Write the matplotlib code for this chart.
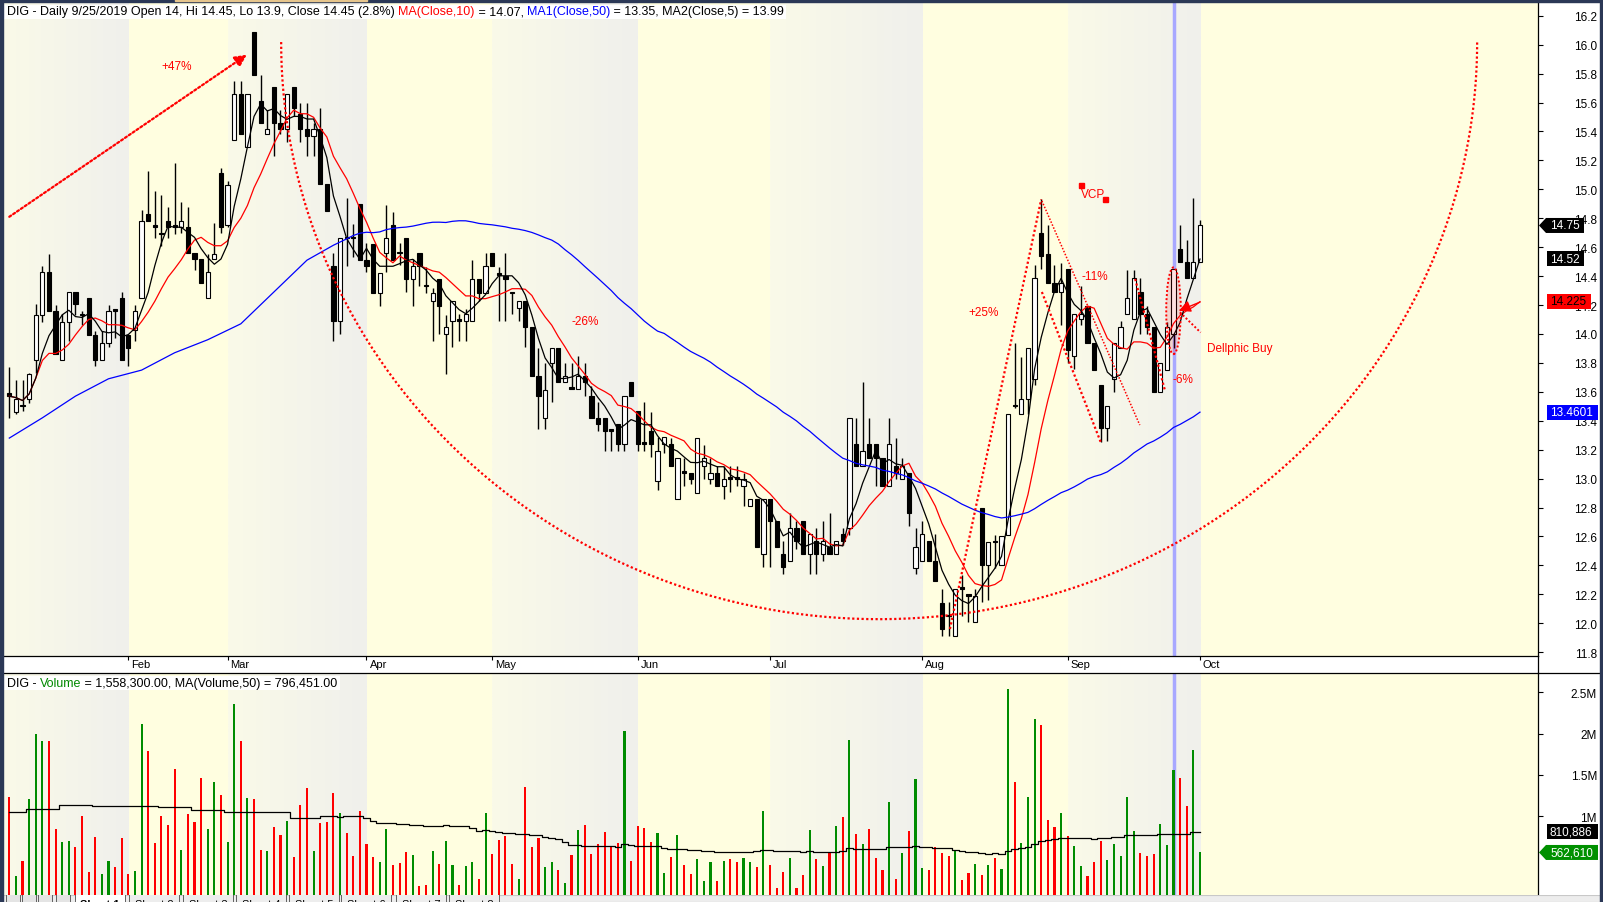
import numpy as np
import pandas as pd
import matplotlib
matplotlib.use('Agg')
import matplotlib.pyplot as plt
import matplotlib.transforms as mtransforms
from matplotlib.patches import Polygon, Rectangle, Ellipse
from matplotlib.lines import Line2D

plt.rcParams['font.family'] = ['Liberation Sans', 'DejaVu Sans']

# ----------------------------- data -----------------------------
opens = [13.59, 13.46, 13.51, 13.55, 13.82, 14.13, 14.43, 14.16, 13.82, 14.08,
         14.29, 14.14, 14.25, 13.99, 13.82, 13.94, 14.17, 14.25, 13.99, 14.03,
         14.25, 14.83, 14.75, 14.70, 14.78, 14.75, 14.74, 14.74, 14.56, 14.52,
         14.25, 14.52, 15.11, 14.75, 15.34, 15.66, 15.29, 16.09, 15.61, 15.38,
         15.71, 15.46, 15.42, 15.71, 15.52, 15.42, 15.37, 15.42, 15.04, 14.47,
         14.09, 14.67, 14.67, 14.90, 14.51, 14.62, 14.28, 14.56, 14.75, 14.57,
         14.66, 14.38, 14.56, 14.34, 14.23, 14.38, 14.00, 14.09, 14.10, 14.09,
         14.09, 14.38, 14.28, 14.56, 14.42, 14.40, 14.29, 14.18, 14.23, 14.05,
         13.71, 13.42, 13.80, 13.90, 13.67, 13.63, 13.62, 13.71, 13.57, 13.42,
         13.42, 13.34, 13.38, 13.24, 13.67, 13.47, 13.25, 13.33, 12.98, 13.24,
         13.24, 12.86, 13.05, 13.04, 12.90, 13.09, 13.00, 13.04, 12.95, 13.01,
         13.01, 12.95, 12.81, 12.86, 12.48, 12.86, 12.71, 12.48, 12.43, 12.66,
         12.71, 12.48, 12.57, 12.48, 12.53, 12.48, 12.62, 12.66, 13.24, 13.09,
         13.24, 13.24, 13.14, 12.95, 13.09, 13.00, 13.04, 12.38, 12.43, 12.57,
         12.43, 12.14, 12.06, 11.91, 12.25, 12.20, 12.01, 12.80, 12.40, 12.57,
         12.40, 12.61, 13.51, 13.45, 13.55, 13.69, 14.70, 14.55, 14.35, 14.29,
         14.45, 13.85, 14.10, 14.19, 13.94, 13.65, 13.35, 13.69, 13.90, 14.14,
         14.10, 14.29, 14.14, 14.05, 13.60, 13.75, 14.00, 14.59, 14.50, 14.39, 14.50]
highs = [13.77, 13.68, 13.68, 13.73, 14.21, 14.47, 14.55, 14.20, 14.14, 14.29,
         14.29, 14.16, 14.25, 14.02, 14.02, 14.20, 14.17, 14.29, 13.99, 14.20,
         14.86, 15.13, 14.99, 14.96, 14.88, 15.18, 14.91, 14.88, 14.56, 14.52,
         14.55, 14.77, 15.15, 15.06, 15.75, 15.75, 15.66, 16.09, 15.79, 15.55,
         15.71, 15.55, 15.66, 15.71, 15.60, 15.60, 15.46, 15.56, 15.04, 14.56,
         14.66, 14.94, 14.76, 14.90, 14.63, 14.62, 14.42, 14.89, 14.84, 14.63,
         14.66, 14.52, 14.56, 14.46, 14.32, 14.38, 14.13, 14.23, 14.14, 14.17,
         14.51, 14.38, 14.56, 14.56, 14.46, 14.56, 14.29, 14.23, 14.23, 14.05,
         13.90, 13.80, 13.90, 13.90, 13.80, 13.80, 13.85, 13.80, 13.64, 13.53,
         13.42, 13.34, 13.38, 13.57, 13.67, 13.47, 13.53, 13.46, 13.29, 13.29,
         13.28, 13.14, 13.14, 13.04, 13.28, 13.23, 13.14, 13.09, 13.09, 13.09,
         13.09, 13.04, 12.86, 12.86, 12.86, 12.86, 12.71, 12.57, 12.76, 12.71,
         12.71, 12.62, 12.66, 12.71, 12.76, 12.57, 12.66, 13.42, 13.42, 13.67,
         13.42, 13.24, 13.14, 13.42, 13.28, 13.14, 13.04, 12.66, 12.71, 12.57,
         12.62, 12.24, 12.15, 12.24, 12.33, 12.20, 12.24, 12.80, 12.56, 12.61,
         12.60, 13.45, 13.94, 13.84, 13.90, 14.48, 14.93, 14.75, 14.48, 14.49,
         14.45, 14.14, 14.33, 14.19, 13.94, 13.65, 13.50, 13.94, 14.09, 14.44,
         14.44, 14.39, 14.19, 14.05, 13.80, 14.08, 14.45, 14.75, 14.65, 14.94, 14.79]
lows = [13.42, 13.45, 13.47, 13.52, 13.73, 14.08, 14.16, 13.86, 13.82, 13.95,
        14.13, 14.06, 13.99, 13.78, 13.82, 13.91, 13.97, 13.82, 13.78, 13.95,
        14.25, 14.78, 14.66, 14.61, 14.66, 14.69, 14.70, 14.56, 14.44, 14.35,
        14.25, 14.52, 14.70, 14.74, 15.34, 15.38, 15.29, 15.79, 15.46, 15.38,
        15.23, 15.38, 15.33, 15.51, 15.33, 15.23, 15.23, 15.04, 14.85, 13.95,
        14.00, 14.47, 14.53, 14.51, 14.43, 14.28, 14.19, 14.43, 14.51, 14.48,
        14.29, 14.19, 14.33, 14.28, 13.95, 14.00, 13.72, 13.91, 13.95, 13.95,
        14.09, 14.23, 14.28, 14.47, 14.09, 14.09, 14.14, 14.09, 13.91, 13.71,
        13.34, 13.34, 13.53, 13.67, 13.67, 13.62, 13.62, 13.57, 13.42, 13.33,
        13.19, 13.19, 13.19, 13.19, 13.57, 13.19, 13.19, 13.15, 12.92, 13.18,
        13.09, 12.86, 12.95, 12.96, 12.90, 13.00, 12.96, 12.95, 12.86, 12.91,
        12.95, 12.81, 12.81, 12.53, 12.39, 12.39, 12.53, 12.34, 12.43, 12.51,
        12.48, 12.34, 12.34, 12.43, 12.48, 12.48, 12.54, 12.61, 13.09, 13.09,
        13.14, 12.95, 12.95, 12.95, 13.00, 13.00, 12.67, 12.34, 12.43, 12.43,
        12.29, 11.91, 11.91, 11.91, 12.05, 12.01, 12.01, 12.15, 12.16, 12.38,
        12.40, 12.61, 13.49, 13.45, 13.45, 13.65, 14.45, 14.35, 14.29, 14.06,
        13.80, 13.76, 14.06, 13.94, 13.75, 13.25, 13.26, 13.60, 13.90, 14.14,
        14.10, 14.00, 14.00, 13.60, 13.60, 13.75, 13.90, 14.50, 14.39, 14.39, 14.50]
closes = [13.57, 13.55, 13.50, 13.72, 14.13, 14.43, 14.16, 13.86, 14.08, 14.29,
          14.21, 14.13, 13.99, 13.82, 13.94, 14.16, 14.16, 13.82, 13.90, 14.16,
          14.78, 14.78, 14.74, 14.69, 14.74, 14.74, 14.78, 14.56, 14.52, 14.35,
          14.43, 14.55, 14.74, 15.03, 15.66, 15.38, 15.66, 15.79, 15.46, 15.42,
          15.46, 15.42, 15.66, 15.56, 15.42, 15.37, 15.42, 15.04, 14.85, 14.09,
          14.66, 14.66, 14.66, 14.51, 14.47, 14.28, 14.42, 14.66, 14.51, 14.56,
          14.38, 14.47, 14.47, 14.33, 14.28, 14.19, 14.05, 14.23, 14.09, 14.14,
          14.38, 14.28, 14.47, 14.47, 14.41, 14.38, 14.28, 14.23, 14.05, 13.71,
          13.57, 13.61, 13.90, 13.67, 13.71, 13.62, 13.71, 13.67, 13.42, 13.38,
          13.33, 13.33, 13.24, 13.57, 13.57, 13.24, 13.24, 13.24, 13.19, 13.29,
          13.09, 13.14, 13.04, 13.00, 13.28, 13.14, 13.04, 12.95, 13.00, 13.00,
          13.00, 13.00, 12.86, 12.53, 12.86, 12.71, 12.53, 12.39, 12.66, 12.57,
          12.48, 12.62, 12.48, 12.57, 12.48, 12.57, 12.57, 13.42, 13.09, 13.19,
          13.14, 13.14, 12.95, 13.24, 13.04, 13.09, 12.76, 12.53, 12.62, 12.43,
          12.29, 11.96, 12.05, 12.24, 12.24, 12.19, 12.19, 12.40, 12.56, 12.56,
          12.60, 13.45, 13.50, 13.55, 13.90, 14.39, 14.54, 14.35, 14.29, 14.35,
          13.89, 14.14, 14.14, 13.94, 13.75, 13.35, 13.50, 13.94, 14.05, 14.25,
          14.39, 14.14, 14.05, 13.60, 13.80, 14.05, 14.45, 14.50, 14.39, 14.50, 14.75]
volumes_m = [1.238, 0.278, 0.460, 1.210, 1.996, 1.915, 1.915, 0.847, 0.690, 0.702,
             0.629, 1.004, 0.327, 0.750, 0.302, 0.460, 0.387, 0.738, 0.302, 0.339,
             2.117, 1.790, 0.677, 1.004, 0.895, 1.573, 0.593, 1.028, 0.931, 1.464,
             0.847, 1.415, 1.258, 0.690, 2.359, 1.915, 1.222, 1.210, 0.593, 0.581,
             0.871, 0.774, 0.944, 0.508, 1.137, 1.343, 0.581, 0.919, 0.931, 1.282,
             1.040, 0.798, 0.520, 1.065, 0.665, 0.508, 0.448, 0.847, 0.411, 0.435,
             0.569, 0.532, 0.157, 0.169, 0.581, 0.423, 0.702, 0.411, 0.169, 0.399,
             0.448, 0.242, 1.040, 0.544, 0.714, 0.762, 0.423, 0.242, 1.355, 0.629,
             0.738, 0.387, 0.448, 0.351, 0.194, 0.532, 0.835, 0.895, 0.544, 0.661,
             0.810, 0.633, 0.677, 2.032, 0.460, 0.883, 0.859, 0.690, 0.798, 0.315,
             0.508, 0.774, 0.411, 0.302, 0.484, 0.218, 0.448, 0.218, 0.460, 0.484,
             0.448, 0.496, 0.448, 0.387, 1.065, 0.411, 0.133, 0.327, 0.496, 0.133,
             0.290, 0.835, 0.484, 0.399, 0.569, 0.883, 0.992, 1.923, 0.786, 0.665,
             0.847, 0.496, 0.351, 1.173, 0.242, 0.556, 0.823, 1.452, 0.375, 0.351,
             0.629, 0.556, 0.520, 0.593, 0.230, 0.315, 0.423, 0.290, 0.411, 0.496,
             0.363, 2.540, 1.415, 0.677, 1.234, 2.177, 2.105, 0.956, 0.871, 1.040,
             0.762, 0.641, 0.399, 0.278, 0.448, 0.702, 0.472, 0.665, 0.520, 1.234,
             0.823, 0.556, 0.520, 0.544, 0.907, 0.653, 1.558, 1.464, 1.125, 1.802, 0.563]
# MA(Close,50) and MA(Volume,50) for bars 0,5,...,45 (history before the chart)
ma50_early = [13.28, 13.42, 13.57, 13.69, 13.75, 13.87, 13.96, 14.07, 14.29, 14.51]
vol_ma50_early = [1.05, 1.09, 1.135, 1.125, 1.12, 1.117, 1.08, 1.048, 1.048, 0.985]
early_bars = list(range(0, 50, 5))

month_labels = ['Feb', 'Mar', 'Apr', 'May', 'Jun', 'Jul', 'Aug', 'Sep', 'Oct']
month_first_bar = [18, 33, 54, 73, 95, 115, 138, 160, 180]
cursor_bar = 176   # 9/25/2019

price_ticks = [11.8, 12.0, 12.2, 12.4, 12.6, 12.8, 13.0, 13.2, 13.4, 13.6, 13.8, 14.0,
               14.2, 14.4, 14.6, 14.8, 15.0, 15.2, 15.4, 15.6, 15.8, 16.0, 16.2]
vol_ticks = [1.0, 1.5, 2.0, 2.5]
vol_tick_labels = ['1M', '1.5M', '2M', '2.5M']

header_pieces = [('DIG - Daily 9/25/2019 Open 14, Hi 14.45, Lo 13.9, Close 14.45 (2.8%) ', 'black'),
                 ('MA(Close,10)', 'red'), (' = 14.07, ', 'black'),
                 ('MA1(Close,50)', 'blue'), (' = 13.35, MA2(Close,5) = 13.99', 'black')]
vol_header_pieces = [('DIG - ', 'black'), ('Volume', '#008800'),
                     (' = 1,558,300.00, MA(Volume,50) = 796,451.00', 'black')]

# value flags on the right axis: (value, text)
price_flags = [(14.75, '14.75'), (14.52, '14.52'), (14.225, '14.225'), (13.4601, '13.4601')]
vol_flags = [(0.810886, '810,886'), (0.56261, '562,610')]

# ----------------------------- layout -----------------------------
W, H, DPI = 1603, 903, 100
fig = plt.figure(figsize=(W / DPI, H / DPI), dpi=DPI)
fig.patch.set_facecolor('white')


def rect(left, top, right, bottom):
    return [left / W, 1 - bottom / H, (right - left) / W, (bottom - top) / H]


AX_R = 1538
ax = fig.add_axes(rect(3, 3, AX_R, 656.7))
axv = fig.add_axes(rect(3, 674.3, AX_R, 896))

XL = (-0.95, 231.1)
PY = (11.7755, 16.295)
VY = (0.048, 2.730)

n = len(closes)
x = np.arange(n)
o, h, l, c = map(np.array, (opens, highs, lows, closes))
vol = np.array(volumes_m)
up = c > o

# background month bands
YELLOW = '#FFFEE0'
G0 = np.array([0xFA, 0xFA, 0xE8]) / 255.0
G1 = np.array([0xF0, 0xF0, 0xEC]) / 255.0
edges = [XL[0]] + month_first_bar + [XL[1]]
grad = np.linspace(0, 1, 64)[None, :, None] * (G1 - G0) + G0
for a, (ylo, yhi) in ((ax, PY), (axv, VY)):
    a.set_facecolor(YELLOW)
    for k in range(len(edges) - 1):
        if k % 2 == 0:
            a.imshow(grad, extent=(edges[k], edges[k + 1], ylo, yhi), aspect='auto',
                     zorder=0, interpolation='bilinear')
    a.set_xlim(*XL)
    a.set_ylim(ylo, yhi)
    a.axvline(cursor_bar, color='#A8A8FF', lw=2.5, zorder=2.5)
    for s in ('left', 'top', 'bottom', 'right'):
        a.spines[s].set_visible(False)
    a.spines['right'].set_visible(True)
    a.spines['right'].set_linewidth(0.9)

ax.spines['bottom'].set_visible(True)
ax.spines['bottom'].set_linewidth(0.9)
axv.spines['top'].set_visible(True)
axv.spines['top'].set_linewidth(0.9)

# candles
ax.vlines(x, l, h, color='black', lw=1.0, zorder=3)
body_h = np.maximum(np.abs(c - o), 0.006)
ax.bar(x, body_h, bottom=np.minimum(o, c), width=0.64,
       color=np.where(up, 'white', 'black'), edgecolor='black', linewidth=0.8, zorder=4)

# moving averages
cs = pd.Series(c)
ma5 = cs.rolling(5, min_periods=1).mean()
ma10 = cs.rolling(10, min_periods=1).mean()
ma50 = cs.rolling(50).mean()
ax.plot(x, ma10, color='red', lw=0.9, zorder=5)
ax.plot(x, ma5, color='black', lw=0.9, zorder=5)
ax.plot(np.concatenate([early_bars, x[49:]]),
        np.concatenate([ma50_early, ma50.values[49:]]), color='blue', lw=0.9, zorder=5)

# volume
axv.bar(x, vol, width=0.32, color=np.where(up, '#008C00', '#FF0000'), zorder=3)
vma = pd.Series(vol).rolling(50).mean()
axv.plot(np.concatenate([early_bars, x[49:]]),
         np.concatenate([vol_ma50_early, vma.values[49:]]),
         color='black', lw=0.9, zorder=4, drawstyle='steps-mid')

# axes ticks
ax.yaxis.tick_right()
ax.set_yticks(price_ticks)
ax.set_yticklabels(['%.1f' % v for v in price_ticks])
ax.tick_params(axis='y', direction='out', length=3.6, width=0.8, pad=38.9, labelsize=8.5)
for t in ax.get_yticklabels():
    t.set_horizontalalignment('right')
ax.set_xticks(month_first_bar)
ax.tick_params(axis='x', direction='out', length=3.0, width=0.8, labelbottom=False)

axv.yaxis.tick_right()
axv.set_yticks(vol_ticks)
axv.set_yticklabels(vol_tick_labels)
axv.tick_params(axis='y', direction='out', length=3.6, width=0.8, pad=38.9, labelsize=8.5)
for t in axv.get_yticklabels():
    t.set_horizontalalignment('right')
axv.set_xticks([])

# month labels
date_tr = mtransforms.blended_transform_factory(ax.transData, ax.transAxes) + \
    mtransforms.ScaledTranslation(3 / DPI, -8 / DPI, fig.dpi_scale_trans)
for mb, lab in zip(month_first_bar, month_labels):
    ax.text(mb, 0, lab, transform=date_tr, fontsize=8, ha='left', va='center', clip_on=False)

# ----------------------------- annotations -----------------------------
RED = '#FF0000'
dot = (0, (1, 1.1))
ax.annotate('', xy=(35.9, 15.93), xytext=(0, 14.81),
            arrowprops=dict(arrowstyle='-|>,head_length=0.7,head_width=0.35', color=RED,
                            lw=1.6, linestyle=dot, shrinkA=0, shrinkB=0), zorder=7)
ax.text(25.3, 15.85, '+47%', color=RED, fontsize=8.5, ha='center', va='center', zorder=7)

# big rounding-bottom arc
t = np.linspace(np.pi, 2 * np.pi, 400)
ax.plot(131.5 + 90.4 * np.cos(t), 16.018 + 3.99 * np.sin(t), color=RED, lw=1.6,
        linestyle=dot, zorder=6)
ax.text(87.0, 14.09, '-26%', color=RED, fontsize=8.5, ha='center', va='center', zorder=7)

# VCP structure
ax.plot([142.2, 156.0], [11.96, 14.93], color=RED, lw=1.6, linestyle=dot, zorder=6)
ax.text(147.3, 14.15, '+25%', color=RED, fontsize=8.5, ha='center', va='center', zorder=7)
ax.plot([156.1, 170.9], [14.92, 13.37], color=RED, lw=1.1, linestyle=dot, zorder=6)
ax.plot([156.1, 165.1], [14.29, 13.24], color=RED, lw=1.6, linestyle=dot, zorder=6)
ax.text(164.1, 14.40, '-11%', color=RED, fontsize=8.5, ha='center', va='center', zorder=7)
ax.plot([170.2, 174.7], [14.38, 13.61], color=RED, lw=1.6, linestyle=dot, zorder=6)
ax.text(177.4, 13.69, '-6%', color=RED, fontsize=8.5, ha='center', va='center', zorder=7)
ax.plot([161.97, 165.6], [15.03, 14.93], 's', color=RED, ms=3.6, zorder=7)
ax.text(163.8, 14.97, 'VCP', color=RED, fontsize=8.5, ha='center', va='center', zorder=7)

# Dellphic buy marker
ax.add_patch(Ellipse((176.0, 14.16), 2.2, 0.6, facecolor=(1, 0, 0, 0.12), edgecolor=RED,
                     lw=1.4, linestyle=dot, zorder=6))
ax.annotate('', xy=(176.8, 14.16), xytext=(180.0, 14.22),
            arrowprops=dict(arrowstyle='-|>,head_length=0.7,head_width=0.35', color=RED,
                            lw=1.0, shrinkA=0, shrinkB=0), zorder=7)
ax.plot([176.97, 180.1], [14.15, 14.01], color=RED, lw=1.4, linestyle=dot, zorder=6)
ax.text(181.1, 13.90, 'Dellphic Buy', color=RED, fontsize=8.5, ha='left', va='center', zorder=7)

# ----------------------------- headers -----------------------------
def chain(a, pieces, x_px, base_px):
    prev = None
    arts = []
    for txt, col in pieces:
        if prev is None:
            tt = a.annotate(txt, xy=(x_px, base_px), xycoords='figure pixels', color=col,
                            fontsize=9, ha='left', va='baseline', zorder=21,
                            annotation_clip=False)
        else:
            tt = a.annotate(txt, xy=(1, base_px), xycoords=(prev, 'figure pixels'), color=col,
                            fontsize=9, ha='left', va='baseline', zorder=21,
                            annotation_clip=False)
        prev = tt
        arts.append(tt)
    return arts


hdr = chain(ax, header_pieces, 7, H - 15.5)
vhdr = chain(axv, vol_header_pieces, 7, H - 687)

fig.canvas.draw()
renderer = fig.canvas.get_renderer()
for a, arts in ((ax, hdr), (axv, vhdr)):
    bbs = [t.get_window_extent(renderer) for t in arts]
    x0 = min(b.x0 for b in bbs) - 3
    x1 = max(b.x1 for b in bbs) + 2
    y0 = min(b.y0 for b in bbs) - 1
    y1 = max(b.y1 for b in bbs) + 1
    a.add_patch(Rectangle((x0, y0), x1 - x0, y1 - y0, transform=mtransforms.IdentityTransform(),
                          facecolor='white', edgecolor='none', zorder=20, clip_on=False))

# ----------------------------- right-side flags -----------------------------
ident = mtransforms.IdentityTransform()


def flag(a, val, txt, fc, tc, x0, x1, arrow=False):
    yd = a.transData.transform((0, val))[1]
    hh = 7.5
    if arrow:
        pts = [(x0, yd), (x0 + 7, yd + hh), (x1, yd + hh), (x1, yd - hh), (x0 + 7, yd - hh)]
        tx = x0 + 11
    else:
        pts = [(x0, yd + hh), (x1, yd + hh), (x1, yd - hh), (x0, yd - hh)]
        tx = x0 + 3
    fig.add_artist(Polygon(pts, closed=True, transform=ident, facecolor=fc, edgecolor='none',
                           zorder=5))
    fig.text(tx / W, yd / H, txt, color=tc, fontsize=8.5, ha='left', va='center', zorder=6)


flag(ax, price_flags[0][0], price_flags[0][1], 'black', 'white', 1539, 1584, arrow=True)
flag(ax, price_flags[1][0], price_flags[1][1], 'black', 'white', 1547, 1584)
flag(ax, price_flags[2][0], price_flags[2][1], '#FF0000', 'black', 1547, 1591)
flag(ax, price_flags[3][0], price_flags[3][1], '#0000FF', 'white', 1547, 1598)
flag(axv, vol_flags[0][0], vol_flags[0][1], 'black', 'white', 1547, 1598)
flag(axv, vol_flags[1][0], vol_flags[1][1], '#009000', 'white', 1539, 1598, arrow=True)

# ----------------------------- frame & separators -----------------------------
ft = fig.transFigure
fig.add_artist(Line2D([AX_R / W, AX_R / W], [1 - 674.3 / H, 1 - 656.7 / H], transform=ft,
                      color='black', lw=0.9))
fig.add_artist(Line2D([AX_R / W, 1600 / W], [1 - 674.3 / H] * 2, transform=ft,
                      color='black', lw=0.9))
fig.add_artist(Line2D([0, 3 / W], [1 - 656.7 / H] * 2, transform=ft, color='black', lw=0.9))
NAVY = '#2B3856'
fig.add_artist(Rectangle((0, 0), 3 / W, 1, transform=ft, color=NAVY, zorder=10))
fig.add_artist(Rectangle((0, 1 - 3 / H), 1, 3 / H, transform=ft, color=NAVY, zorder=10))
fig.add_artist(Rectangle((1600 / W, 0), 3 / W, 1, transform=ft, color=NAVY, zorder=10))
fig.add_artist(Rectangle((175 / W, 1 - 2 / H), 192 / W, 2 / H, transform=ft, color='#E6C58C',
                         zorder=11))

# sheet tab strip at the bottom
tab = fig.add_axes([0, 0, 1, 7 / H])
tab.set_xlim(0, W)
tab.set_ylim(0, 7)
tab.axis('off')
tab.add_patch(Rectangle((0, 0), W, 7, facecolor='#EDEDED', edgecolor='none'))
tab.add_patch(Rectangle((3, 0), 1597, 7, facecolor='none', edgecolor='#C8C8C8', lw=0.8))
for i, xc in enumerate([100, 154, 208, 261, 314, 366, 421, 474]):
    tab.add_patch(Rectangle((xc - 25, -2), 50, 10, facecolor='white' if i == 0 else '#EDEDED',
                            edgecolor='#606060', lw=0.7))
    tab.text(xc, -2.5, 'Sheet %d' % (i + 1), fontsize=8, ha='center', va='center',
             fontweight='bold' if i == 0 else 'normal', clip_on=True)
for xb in (6, 22, 38, 56):
    tab.add_patch(Rectangle((xb, -2), 14, 10, facecolor='#E4E4E4', edgecolor='#606060', lw=0.7))

fig.savefig('out.png', dpi=DPI, facecolor='white')
